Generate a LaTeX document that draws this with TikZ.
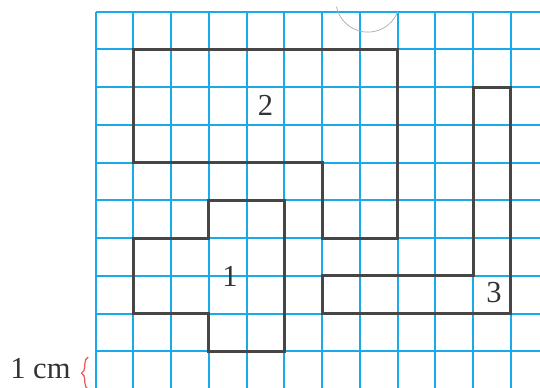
\documentclass[tikz,border=0pt]{standalone}
\usepackage{tikz}
\usepackage{fontspec}
\setmainfont{Liberation Serif}
\usetikzlibrary{decorations.pathreplacing}

\definecolor{gridblue}{RGB}{25,170,235}
\definecolor{edgegray}{RGB}{70,70,70}
\definecolor{bracered}{RGB}{235,85,85}

\begin{document}
\begin{tikzpicture}[x=1cm,y=-1cm,
    gridline/.style={gridblue,line width=1.5pt},
    figline/.style={edgegray,line width=2.3pt,line join=miter},
    arcline/.style={gray!60,line width=0.6pt},
    num/.style={font=\fontsize{23}{27}\selectfont,text=black!80,inner sep=0pt}]

    % 设置画布大小
    \useasboundingbox (-2.535,-0.31) rectangle (11.77,9.955);

    % 方格纸
    \draw[gridline] (0,0) grid (11.8,10);

    % 上方的圆弧
    \coordinate (O) at (7.21,-0.31);
    \draw[arcline] ([shift={(168:0.85)}]O) arc[start angle=168,end angle=22,radius=0.85];

    % 三个图形
    % 2. 上面的图形
    \draw[figline] (1,1) -- (8,1) -- (8,6) -- (6,6) -- (6,4) -- (1,4) -- cycle;
    % 1. 左下的图形
    \draw[figline] (3,5) -- (5,5) -- (5,9) -- (3,9) -- (3,8) -- (1,8) -- (1,6) -- (3,6) -- cycle;
    % 3. 右边的图形
    \draw[figline] (10,2) -- (11,2) -- (11,8) -- (6,8) -- (6,7) -- (10,7) -- cycle;

    % 图形的编号
    \node[num] (L2) at (4.5,2.48)  {2};
    \node[num] (L1) at (3.56,7.0)  {1};
    \node[num] (L3) at (10.55,7.45) {3};

    % 1 cm 的说明
    \node[num,anchor=base east] (U) at (-0.66,9.72) {1 cm};
    \coordinate (B1) at (-0.2,10.0);
    \coordinate (B2) at (-0.2,9.15);
    \draw[bracered,line width=0.9pt,decorate,decoration={brace,amplitude=5pt}] (B1) -- (B2);

\end{tikzpicture}
\end{document}
